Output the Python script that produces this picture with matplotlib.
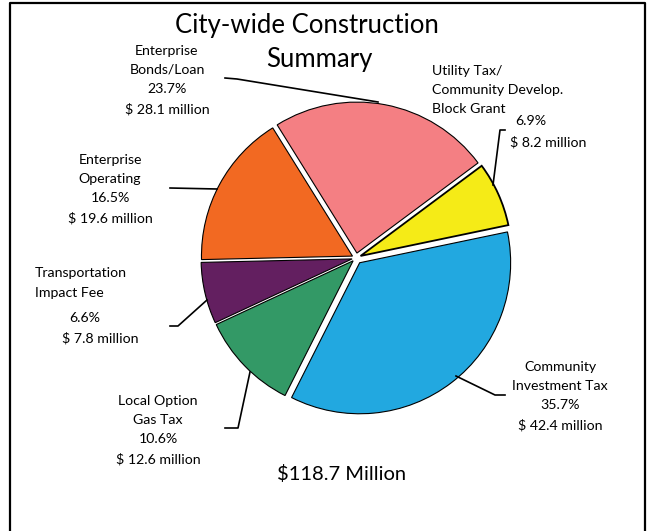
import matplotlib.pyplot as plt
from matplotlib.lines import Line2D

# data (counter-clockwise from the big blue slice)
names = ["Community\nInvestment Tax", "Utility Tax/\nCommunity Develop.\nBlock Grant",
         "Enterprise\nBonds/Loan", "Enterprise\nOperating",
         "Transportation\nImpact Fee", "Local Option\nGas Tax"]
pcts = [35.7, 6.9, 23.7, 16.5, 6.6, 10.6]
millions = [42.4, 8.2, 28.1, 19.6, 7.8, 12.6]
colors = ["#22a8e0", "#f5eb17", "#f47f83", "#f26922", "#631f60", "#339966"]
total_text = "$118.7 Million"
title_lines = ["City-wide Construction", "Summary"]

plt.rcParams['font.family'] = ['Lato', 'DejaVu Sans']

W, H = 652, 531
fig = plt.figure(figsize=(W / 100, H / 100), dpi=100)
ax = fig.add_axes([0, 0, 1, 1])


def Y(y):
    return H - y


wedges, _ = ax.pie(millions, colors=colors, startangle=243.2, counterclock=True,
                   center=(356, Y(258)), radius=151,
                   explode=[6, 5, 5, 4, 4, 4],
                   wedgeprops=dict(edgecolor='black', linewidth=0.8))
wedges[1].set_linewidth(1.3)

ax.set_xlim(0, W)
ax.set_ylim(0, H)
ax.set_aspect('equal')
ax.axis('off')

# frame around the chart (left, top, right)
ax.add_line(Line2D([10, 10, 645, 645], [Y(531), Y(3), Y(3), Y(531)], color='black', lw=1.6))

ax.text(307, Y(26), title_lines[0], ha='center', va='center', fontsize=18.5)
ax.text(319, Y(60), title_lines[1], ha='center', va='center', fontsize=18.5)
ax.text(342, Y(474), total_text, ha='center', va='center', fontsize=14.5)

fs = 10.2
lab = dict(fontsize=fs, linespacing=1.72)

# label positions and leader lines (pixel coords)
# 0 Community Investment Tax
ax.text(560, Y(396), names[0] + "\n%.1f%%\n$ %.1f million" % (pcts[0], millions[0]),
        ha='center', va='center', **lab)
ax.plot([456, 495, 505], [Y(376), Y(395), Y(395)], color='black', lw=1.2)
# 1 Utility Tax
ax.text(432, Y(90), names[1], ha='left', va='center', **lab)
ax.text(531, Y(121), "%.1f%%" % pcts[1], ha='center', va='center', fontsize=fs)
ax.text(548, Y(142), "$ %.1f million" % millions[1], ha='center', va='center', fontsize=fs)
ax.plot([505, 500, 493], [Y(130), Y(130), Y(185)], color='black', lw=1.2)
# 2 Enterprise Bonds/Loan
ax.text(167, Y(80), names[2] + "\n%.1f%%\n$ %.1f million" % (pcts[2], millions[2]),
        ha='center', va='center', **lab)
ax.plot([225, 237, 378], [Y(78), Y(79), Y(102)], color='black', lw=1.2)
# 3 Enterprise Operating
ax.text(110, Y(189), names[3] + "\n%.1f%%\n$ %.1f million" % (pcts[3], millions[3]),
        ha='center', va='center', **lab)
ax.plot([170, 217], [Y(188), Y(189)], color='black', lw=1.2)
# 4 Transportation Impact Fee
ax.text(35, Y(283), names[4], ha='left', va='center', **lab)
ax.text(85, Y(318), "%.1f%%" % pcts[4], ha='center', va='center', fontsize=fs)
ax.text(100, Y(338), "$ %.1f million" % millions[4], ha='center', va='center', fontsize=fs)
ax.plot([170, 178, 207], [Y(326), Y(326), Y(300)], color='black', lw=1.2)
# 5 Local Option Gas Tax
ax.text(158, Y(430), names[5] + "\n%.1f%%\n$ %.1f million" % (pcts[5], millions[5]),
        ha='center', va='center', **lab)
ax.plot([225, 238, 250], [Y(428), Y(428), Y(372)], color='black', lw=1.2)

fig.savefig("out.png", dpi=100)
